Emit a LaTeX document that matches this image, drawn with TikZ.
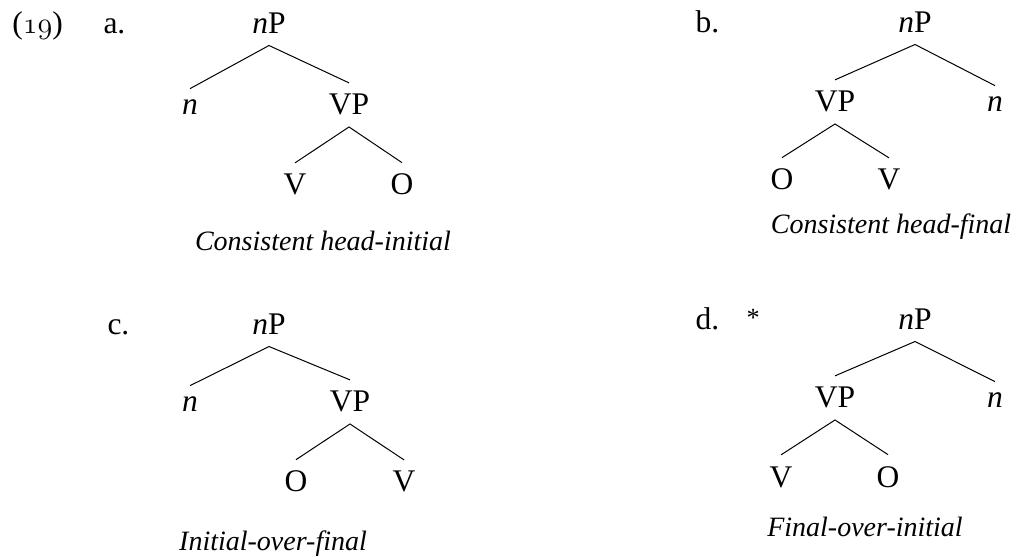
\documentclass[tikz,border=0pt]{standalone}
\usepackage{fontspec}
\setmainfont{Liberation Serif}

\begin{document}
\begin{tikzpicture}[x=0.4pt,y=-0.4pt]
        \tikzstyle{every node}=[anchor=base,inner sep=4.4pt,font=\fontsize{12.6}{14}\selectfont]
        \tikzstyle{tag}=[anchor=base west,inner sep=0pt]
        \tikzstyle{caption}=[inner sep=0pt,font=\fontsize{11.2}{13}\selectfont\itshape]
        \tikzstyle{branch}=[line width=0.4pt]
        \useasboundingbox (0,0) rectangle (1024,557);

        % (19a)
        \node[tag] (exno) at (12,34) {(\ensuremath{\mathnormal{19}})};
        \node[tag] (alab) at (103,34) {a.};
        \node (aroot) at (269,34) {\textit{n}P};
        \node (an) at (190,115) {\textit{n}};
        \node (avp) at (349,115) {VP};
        \node (av) at (295,195) {V};
        \node (ao) at (402,195) {O};
        \draw[branch] (an.north) -- (aroot.south) -- (avp.north);
        \draw[branch] (av.north) -- (avp.south) -- (ao.north);
        \node[caption] (acap) at (323,251) {Consistent head-initial};

        % (19b)
        \node[tag] (blab) at (695,33) {b.};
        \node (broot) at (915,33) {\textit{n}P};
        \node (bvp) at (835,112) {VP};
        \node (bn) at (995,112) {\textit{n}};
        \node (bo) at (782,190) {O};
        \node (bv) at (889,190) {V};
        \draw[branch] (bvp.north) -- (broot.south) -- (bn.north);
        \draw[branch] (bo.north) -- (bvp.south) -- (bv.north);
        \node[caption] (bcap) at (891,234) {Consistent head-final};

        % (19c)
        \node[tag] (clab) at (107,335) {c.};
        \node (croot) at (269,335) {\textit{n}P};
        \node (cn) at (190,412) {\textit{n}};
        \node (cvp) at (350,412) {VP};
        \node (co) at (296,492) {O};
        \node (cv) at (404,492) {V};
        \draw[branch] (cn.north) -- (croot.south) -- (cvp.north);
        \draw[branch] (co.north) -- (cvp.south) -- (cv.north);
        \node[caption] (ccap) at (273,550) {Initial-over-final};

        % (19d)
        \node[tag] (dlab) at (695,330) {d.};
        \node[tag,font=\fontsize{10.5}{12}\selectfont] (dstar) at (746,327) {*};
        \node (droot) at (915,330) {\textit{n}P};
        \node (dvp) at (835,408) {VP};
        \node (dn) at (995,408) {\textit{n}};
        \node (dv) at (781,487) {V};
        \node (do) at (888,487) {O};
        \draw[branch] (dvp.north) -- (droot.south) -- (dn.north);
        \draw[branch] (dv.north) -- (dvp.south) -- (do.north);
        \node[caption] (dcap) at (865,536) {Final-over-initial};
\end{tikzpicture}
\end{document}
